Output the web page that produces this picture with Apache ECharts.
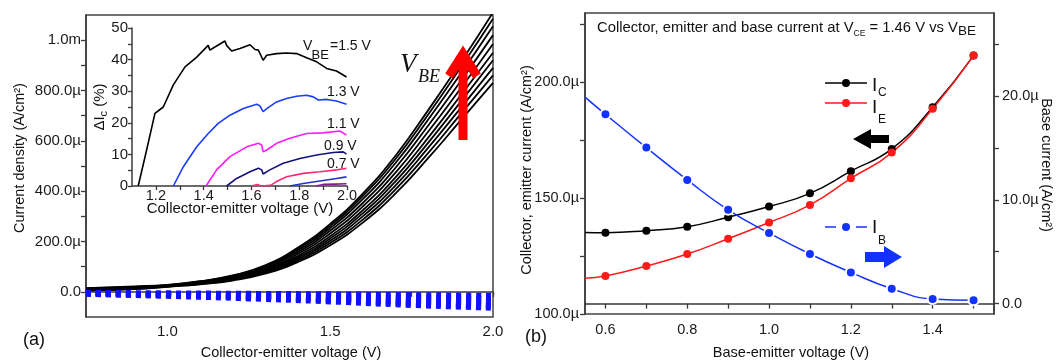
<!DOCTYPE html>
<html><head><meta charset="utf-8">
<script src="https://cdn.jsdelivr.net/npm/echarts/dist/echarts.min.js"></script>
<style>html,body{margin:0;padding:0;background:#fff}#c{width:1060px;height:361px}</style>
</head><body><div id="c"></div>
<script>
// ---------- Panel (a): main J-V curves (units: µA/cm²) ----------
const mainV = [0.75, 0.9, 1.0, 1.1, 1.2, 1.3, 1.4, 1.5, 1.6, 1.7, 1.8, 1.9, 2.0];
const jc0 = [5, 11, 20, 30, 45, 72, 118, 185, 275, 390, 530, 680, 830];
const jc1 = [6, 12, 21, 31, 47, 76, 124, 194, 287, 406, 550, 705, 860];
const jc2 = [7, 13, 22, 33, 49, 79, 130, 203, 300, 422, 571, 729, 890];
const jc3 = [8, 14, 23, 34, 51, 83, 136, 212, 312, 438, 591, 754, 920];
const jc4 = [9, 15, 23, 35, 54, 86, 142, 221, 324, 454, 611, 779, 950];
const jc5 = [10, 17, 24, 37, 56, 90, 150, 232, 339, 473, 635, 807, 985];
const jc6 = [11, 18, 25, 38, 59, 94, 157, 243, 353, 492, 659, 836, 1020];
const jc7 = [12, 19, 26, 40, 61, 99, 164, 253, 368, 511, 683, 865, 1055];
const jc8 = [14, 20, 27, 41, 63, 102, 170, 262, 380, 527, 703, 890, 1085];
const jc9 = [15, 22, 28, 42, 65, 105, 175, 270, 390, 540, 720, 910, 1110];
// base currents (blue dashed, negative)
const baseV = [0.75, 1.0, 1.25, 1.5, 1.75, 2.0];
const jb0 = [-2, -4, -6, -8, -11, -14];
const jb1 = [-4, -8, -12, -17, -22, -27];
const jb2 = [-5, -11, -17, -24, -32, -39];
const jb3 = [-7, -13, -21, -30, -40, -49];
const jb4 = [-9, -16, -25, -35, -48, -58];
const jb5 = [-10, -18, -28, -40, -54, -65];
const mainYTicks = [0, 100, 200, 300, 400, 500, 600, 700, 800, 900, 1000];
const mainYLabels = [0, 200, 400, 600, 800, 1000];
const mainXTicks = [1.0, 1.25, 1.5, 1.75, 2.0];
const mainXLabels = [1.0, 1.5, 2.0];

// ---------- Inset: ΔIc (%) vs VCE ----------
const ins15 = [[1.126,0],[1.16,11],[1.196,23],[1.231,25],[1.273,32],[1.322,37.7],[1.371,40.8],[1.419,44.5],[1.426,43],[1.447,44],[1.489,45.9],[1.496,44.5],[1.517,42.7],[1.552,43.5],[1.594,44.7],[1.615,43.2],[1.629,43],[1.649,39.8],[1.664,41.4],[1.705,41.9],[1.747,42.1],[1.789,41.9],[1.831,40.6],[1.873,39.3],[1.915,37.2],[1.956,36.4],[1.998,34.5]];
const ins13 = [[1.273,0],[1.315,6.1],[1.371,12.4],[1.419,16.6],[1.461,19.8],[1.51,22.4],[1.566,24.5],[1.622,25.9],[1.636,25.3],[1.649,23.5],[1.664,24.5],[1.705,26.6],[1.747,27.7],[1.789,28.4],[1.831,28.7],[1.859,28.2],[1.88,27.2],[1.915,27.4],[1.956,26.9],[1.998,25.9]];
const ins11 = [[1.41,0],[1.454,5.1],[1.51,9.3],[1.58,12.4],[1.629,13.5],[1.643,13],[1.649,10.8],[1.664,11.4],[1.705,13.5],[1.761,15.1],[1.831,16.6],[1.9,16.8],[1.97,17.4],[1.998,16.1]];
const ins09 = [[1.496,0],[1.538,2.4],[1.594,4.5],[1.629,5.6],[1.643,5.1],[1.649,3.8],[1.677,5.1],[1.733,7.2],[1.803,8.7],[1.873,9.8],[1.942,10.6],[1.984,10.8],[1.998,10.1]];
const ins07 = [[1.6,0],[1.625,0.5],[1.64,0],[1.68,0.2],[1.705,1.4],[1.747,2.9],[1.817,4.0],[1.887,4.5],[1.956,5.1],[1.998,5.6]];
const ins05 = [[1.761,0],[1.817,0.8],[1.887,1.6],[1.956,2.4],[1.998,2.9]];
const ins03 = [[1.87,0],[1.9,0.5],[1.95,0.6],[1.998,0.7]];
const insXTicks = [1.2, 1.3, 1.4, 1.5, 1.6, 1.7, 1.8, 1.9, 2.0];
const insXLabels = [1.2, 1.4, 1.6, 1.8, 2.0];
const insYTicks = [0, 5, 10, 15, 20, 25, 30, 35, 40, 45, 50];
const insYLabels = [0, 10, 20, 30, 40, 50];

// ---------- Panel (b): currents at VCE = 1.46 V vs VBE ----------
const vbe = [0.6, 0.7, 0.8, 0.9, 1.0, 1.1, 1.2, 1.3, 1.4, 1.5];
const ic = [135.1, 136.0, 137.7, 141.8, 146.4, 152.1, 161.7, 171.3, 189.3, 211.6];
const ie = [116.4, 120.7, 125.9, 132.5, 139.5, 147.1, 158.6, 169.7, 188.6, 211.6];
const ib = [18.24, 15.03, 11.92, 9.04, 6.8, 4.78, 3.01, 1.44, 0.45, 0.32];
const startV = 0.55, icStart = 135.2, ieStart = 115.4, ibStart = 19.9;
const bXTicks = [0.6, 0.7, 0.8, 0.9, 1.0, 1.1, 1.2, 1.3, 1.4, 1.5];
const bXLabels = [0.6, 0.8, 1.0, 1.2, 1.4];
const bYTicks = [100, 125, 150, 175, 200, 225];
const bYLabels = [100, 150, 200];
const bY2Ticks = [0, 5, 10, 15, 20, 25];
const bY2Labels = [0, 10, 20];

const FONT = '"Liberation Sans", Arial, Helvetica, sans-serif';
const SERIF = '"Liberation Serif", "DejaVu Serif", serif';
const AX = '#3a3a3a';

function fmtMain(v) {
  if (Math.abs(v) < 1e-9) return '0.0';
  if (v >= 1000) return (v / 1000).toFixed(1) + 'm';
  return v.toFixed(1) + 'µ';
}
function axLine() { return { show: true, lineStyle: { color: AX, width: 1.5 } }; }
function ticks(vals, len) { return { show: true, customValues: vals, length: len || 5, lineStyle: { color: AX, width: 1.3 } }; }
function labels(vals, fmt, size, margin) {
  return { show: true, customValues: vals, formatter: fmt, fontSize: size, fontFamily: FONT, color: '#1a1a1a', margin: margin };
}

const jCurves = [jc0, jc1, jc2, jc3, jc4, jc5, jc6, jc7, jc8, jc9];
const jbCurves = [jb0, jb1, jb2, jb3, jb4, jb5];
const series = [];
jCurves.forEach(c => series.push({
  type: 'line', xAxisIndex: 0, yAxisIndex: 0, smooth: true, showSymbol: false, silent: true,
  data: mainV.map((v, i) => [v, c[i]]), lineStyle: { color: '#000', width: 1.8 }
}));
jbCurves.forEach(c => series.push({
  type: 'line', xAxisIndex: 0, yAxisIndex: 0, smooth: true, showSymbol: false, silent: true,
  data: baseV.map((v, i) => [v, c[i]]), lineStyle: { color: '#1010ff', width: 5, type: [5, 5], cap: 'butt' }
}));
[[ins15, '#000000'], [ins13, '#1a3cff'], [ins11, '#ff1aff'], [ins09, '#12127a'], [ins07, '#ff2a78'], [ins05, '#2233c4'], [ins03, '#8a1a9a']].forEach(p => series.push({
  type: 'line', xAxisIndex: 1, yAxisIndex: 1, showSymbol: false, silent: true,
  data: p[0], lineStyle: { color: p[1], width: 1.6 }
}));
series.push({
  type: 'line', xAxisIndex: 2, yAxisIndex: 2, smooth: true, symbol: 'circle', symbolSize: 8,
  data: [{ value: [startV, icStart], symbol: 'none' }].concat(vbe.map((v, i) => [v, ic[i]])),
  lineStyle: { color: '#000', width: 1.5 }, itemStyle: { color: '#000' }
});
series.push({
  type: 'line', xAxisIndex: 2, yAxisIndex: 2, smooth: true, symbol: 'circle', symbolSize: 8,
  data: [{ value: [startV, ieStart], symbol: 'none' }].concat(vbe.map((v, i) => [v, ie[i]])),
  lineStyle: { color: '#ff1a1a', width: 1.5 }, itemStyle: { color: '#ff1a1a' }
});
series.push({
  type: 'line', xAxisIndex: 2, yAxisIndex: 3, smooth: true, symbol: 'circle', symbolSize: 10,
  data: [{ value: [startV, ibStart], symbol: 'none' }].concat(vbe.map((v, i) => [v, ib[i]])),
  lineStyle: { color: '#1432ff', width: 1.5 }, itemStyle: { color: '#1432ff', borderColor: '#fff', borderWidth: 2 }
});

function txt(x, y, text, size, o) {
  o = o || {};
  return { type: 'text', x: x, y: y, rotation: o.rot || 0, z: 100, silent: true,
    style: { text: text, font: (o.fs || '') + ' ' + size + 'px ' + (o.family || FONT), fill: o.color || '#111',
      align: o.align || 'left', verticalAlign: o.va || 'middle', rich: o.rich } };
}
const graphic = [
  // panel a
  txt(20, 158, 'Current density (A/cm²)', 14.5, { rot: Math.PI / 2, align: 'center' }),
  txt(291, 353, 'Collector-emitter voltage (V)', 14.5, { align: 'center' }),
  txt(23, 340, '(a)', 18),
  txt(100, 107, '{a|ΔI}{b|c}{a| (%)}', 15, { rot: Math.PI / 2, align: 'center',
    rich: { a: { fontSize: 15, fontFamily: FONT, lineHeight: 16, verticalAlign: 'top' }, b: { fontSize: 11, fontFamily: FONT, lineHeight: 11, padding: [7, 0, 0, 0] } } }),
  txt(240, 209, 'Collector-emitter voltage (V)', 15, { align: 'center' }),
  txt(303, 46, 'V', 14), txt(311.5, 55, 'BE', 13), txt(330, 46, '=1.5 V', 14),
  txt(327, 92, '1.3 V', 14), txt(327, 124, '1.1 V', 14), txt(324, 146, '0.9 V', 14), txt(327, 164, '0.7 V', 14),
  txt(400, 65, 'V', 27, { fs: 'italic', family: SERIF }),
  txt(418, 77, 'BE', 18, { fs: 'italic', family: SERIF }),
  { type: 'line', z: 100, shape: { x1: 463, y1: 140, x2: 463, y2: 56 }, style: { stroke: '#ff0000', lineWidth: 9 } },
  { type: 'polyline', z: 100, shape: { points: [[449, 76], [463, 54], [477, 76]] }, style: { stroke: '#ff0000', lineWidth: 9, fill: null, lineJoin: 'miter' } },
  // panel b
  txt(527, 170, 'Collector, emitter current (A/cm²)', 14.5, { rot: Math.PI / 2, align: 'center' }),
  txt(1046, 165, 'Base current (A/cm²)', 14.5, { rot: -Math.PI / 2, align: 'center' }),
  txt(791, 353, 'Base-emitter voltage (V)', 14.5, { align: 'center' }),
  txt(525, 337, '(b)', 18),
  txt(597, 28, '{t|Collector, emitter and base current at V}{ce|CE}{t| = 1.46 V vs V}{be|BE}', 14.8, {
    rich: { t: { fontSize: 14.8, fontFamily: FONT, lineHeight: 20 }, ce: { fontSize: 8.5, fontFamily: FONT, lineHeight: 6, verticalAlign: 'bottom' }, be: { fontSize: 13.5, fontFamily: FONT, lineHeight: 10, verticalAlign: 'bottom' } } }),
  { type: 'line', z: 100, shape: { x1: 825, y1: 83, x2: 867, y2: 83 }, style: { stroke: '#000', lineWidth: 1.5 } },
  { type: 'circle', z: 101, shape: { cx: 846, cy: 83, r: 4 }, style: { fill: '#000' } },
  txt(872, 86, 'I', 19), txt(878, 93, 'C', 12),
  { type: 'line', z: 100, shape: { x1: 825, y1: 103, x2: 867, y2: 103 }, style: { stroke: '#ff1a1a', lineWidth: 1.5 } },
  { type: 'circle', z: 101, shape: { cx: 846, cy: 103, r: 4 }, style: { fill: '#ff1a1a' } },
  txt(872, 108, 'I', 19), txt(878, 120, 'E', 12),
  { type: 'line', z: 100, shape: { x1: 825, y1: 227, x2: 836, y2: 227 }, style: { stroke: '#1432ff', lineWidth: 1.5 } },
  { type: 'line', z: 100, shape: { x1: 856, y1: 227, x2: 867, y2: 227 }, style: { stroke: '#1432ff', lineWidth: 1.5 } },
  { type: 'circle', z: 101, shape: { cx: 846, cy: 227, r: 4 }, style: { fill: '#1432ff' } },
  txt(872, 228, 'I', 19), txt(878, 241, 'B', 12),
  { type: 'polygon', z: 100, shape: { points: [[853, 139], [871, 129], [871, 135], [889, 135], [889, 143], [871, 143], [871, 149]] }, style: { fill: '#000' } },
  { type: 'polygon', z: 100, shape: { points: [[865, 252], [884, 252], [884, 246], [902, 257], [884, 268], [884, 262], [865, 262]] }, style: { fill: '#1432ff' } }
];

const option = {
  animation: false,
  backgroundColor: '#fff',
  grid: [
    { left: 86, top: 15, width: 407, height: 302, show: true, borderColor: '#444', borderWidth: 1.5, backgroundColor: 'transparent' },
    { left: 132, top: 28, width: 215, height: 158 },
    { left: 585, top: 13, width: 409, height: 301, show: true, borderColor: '#444', borderWidth: 1.5, backgroundColor: 'transparent' }
  ],
  xAxis: [
    { gridIndex: 0, type: 'value', min: 0.75, max: 2.0, axisLine: axLine(), axisTick: ticks(mainXTicks, 5),
      axisLabel: labels(mainXLabels, v => v.toFixed(1), 15, 7), splitLine: { show: false } },
    { gridIndex: 1, type: 'value', min: 1.1, max: 2.0, axisLine: axLine(), axisTick: ticks(insXTicks, 4),
      axisLabel: labels(insXLabels, v => v.toFixed(1), 14.5, 2), splitLine: { show: false } },
    { gridIndex: 2, type: 'value', min: 0.55, max: 1.55, axisLine: axLine(), axisTick: ticks(bXTicks, 5),
      axisLabel: labels(bXLabels, v => v.toFixed(1), 14.5, 8), splitLine: { show: false } }
  ],
  yAxis: [
    { gridIndex: 0, type: 'value', min: -100, max: 1100, axisLine: axLine(), axisTick: ticks(mainYTicks, 5),
      axisLabel: labels(mainYLabels, fmtMain, 15, 5), splitLine: { show: false } },
    { gridIndex: 1, type: 'value', min: 0, max: 50, axisLine: axLine(), axisTick: ticks(insYTicks, 4),
      axisLabel: labels(insYLabels, v => String(v), 15, 4), splitLine: { show: false } },
    { gridIndex: 2, type: 'value', min: 100, max: 230, axisLine: axLine(), axisTick: ticks(bYTicks, 5),
      axisLabel: labels(bYLabels, v => v.toFixed(1) + 'µ', 14.5, 6), splitLine: { show: false } },
    { gridIndex: 2, type: 'value', position: 'right', min: -1, max: 28, axisLine: axLine(), axisTick: ticks(bY2Ticks, 5),
      axisLabel: labels(bY2Labels, v => (v === 0 ? '0.0' : v.toFixed(1) + 'µ'), 14.5, 8), splitLine: { show: false } }
  ],
  series: series,
  graphic: graphic
};
const chart = echarts.init(document.getElementById('c'), null, { renderer: 'canvas' });
chart.setOption(option);
</script></body></html>
